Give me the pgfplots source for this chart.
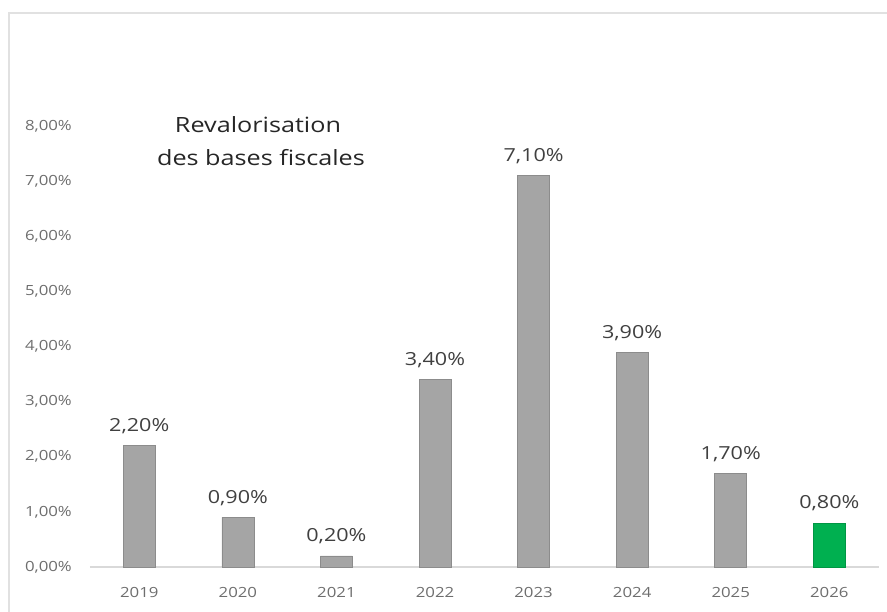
\documentclass[border=0pt]{standalone}
\usepackage{pgfplots}
\pgfplotsset{compat=1.18}
\usepackage{fontspec}
\setmainfont{Open Sans}[FakeStretch=1.2]
\definecolor{barg}{RGB}{165,165,165}
\definecolor{barge}{RGB}{140,140,140}
\definecolor{bargreen}{RGB}{0,176,80}
\definecolor{tickc}{RGB}{110,110,110}
\definecolor{labc}{RGB}{64,64,64}
\definecolor{axc}{RGB}{217,217,217}
\definecolor{framec}{RGB}{225,225,225}
\begin{document}
\begin{tikzpicture}[x=1pt,y=1pt]
\path[use as bounding box] (-90,-45) rectangle (797,567);
\draw[framec, line width=1.3pt] (-81,-46) -- (-81,554) -- (798,554);
\begin{axis}[
  at={(0,0)}, anchor=south west,
  scale only axis, width=788.6pt, height=441pt,
  xmin=-0.5, xmax=7.5, ymin=0, ymax=8,
  axis x line*=bottom, axis y line*=left,
  x axis line style={draw=axc, line width=1.5pt, -},
  y axis line style={draw=none},
  xtick={0,...,7},
  xticklabels={2019,2020,2021,2022,2023,2024,2025,2026},
  ytick={0,...,8},
  yticklabels={0{,}00\%,1{,}00\%,2{,}00\%,3{,}00\%,4{,}00\%,5{,}00\%,6{,}00\%,7{,}00\%,8{,}00\%},
  major tick length=0pt,
  tick style={draw=none},
  xticklabel style={font=\fontsize{14}{17}\selectfont, text=tickc, anchor=base, inner sep=0pt, yshift=-31pt},
  yticklabel style={font=\fontsize{14}{16}\selectfont, text=tickc, anchor=east, inner sep=0pt, xshift=-18pt},
  ybar, bar width=32pt, bar shift=0pt,
  nodes near coords={\pgfmathprintnumber[fixed,fixed zerofill,precision=2,use comma,assume math mode=true]{\pgfplotspointmeta}\%},
  every node near coord/.append style={font=\fontsize{18}{20}\selectfont, text=labc, anchor=base, inner sep=0pt, yshift=14pt},
  clip=false,
]
\addplot[fill=barg, draw=barge, line width=0.6pt] coordinates {(0,2.2) (1,0.9) (2,0.2) (3,3.4) (4,7.1) (5,3.9) (6,1.7)};
\addplot[fill=bargreen, draw=bargreen!85!black, line width=0.6pt] coordinates {(7,0.8)};
\end{axis}
\node[anchor=base, inner sep=0pt, font=\fontsize{21}{24}\selectfont, text=black!85] at (168,434) {Revalorisation};
\node[anchor=base, inner sep=0pt, font=\fontsize{21}{24}\selectfont, text=black!85] at (171,401) {des bases fiscales};
\end{tikzpicture}
\end{document}
